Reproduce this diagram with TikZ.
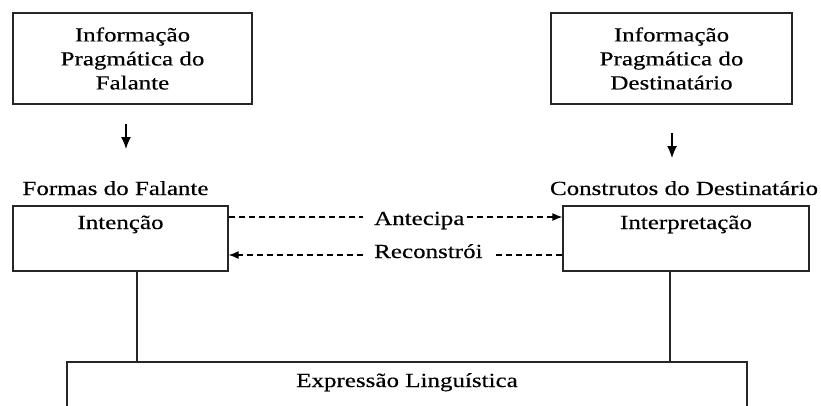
\documentclass[tikz,border=0pt]{standalone}
\usepackage{fontspec}
\setmainfont{Liberation Serif}[FakeStretch=1.25, FakeBold=0.4]
\usetikzlibrary{arrows.meta}

\begin{document}
\begin{tikzpicture}[x=1pt,y=-1pt,
  every node/.style={font=\fontsize{20}{24}\selectfont},
  caixa/.style={draw=black!85, line width=1.3pt, inner sep=0pt},
  seta/.style={line width=1.3pt, -{Latex[length=12pt,width=10pt]}},
  tracejado/.style={line width=1.2pt, dash pattern=on 6pt off 4pt}]
\def\xl{132.5};
\def\xr{671.5};
\def\ytopo{58.5};
\def\yrot{195};
\def\ycx{229};

\useasboundingbox (0,0) rectangle (821,405);
\clip (0,0) rectangle (821,405);

% caixas de cima
\node[caixa, align=center, minimum width=239pt, minimum height=91pt] (infF) at (\xl, \ytopo) {Informação\\Pragmática do\\Falante};
\node[caixa, align=center, minimum width=241pt, minimum height=91pt] (infD) at (\xr, \ytopo) {Informação\\Pragmática do\\Destinatário};

\coordinate (sF1) at (126,124);
\coordinate (sF2) at (126,149);
\coordinate (sD1) at (672,133);
\coordinate (sD2) at (672,158);
\draw[seta] (sF1) -- (sF2);
\draw[seta] (sD1) -- (sD2);

\node[anchor=base] (formas) at (115.5, \yrot) {Formas do Falante};
\node[anchor=base] (constr) at (684, \yrot) {Construtos do Destinatário};

% intencao / interpretacao
\node[caixa, anchor=base, minimum width=215pt, text height=23pt, text depth=42pt] (int) at (120.5, \ycx) {Intenção};
\node[caixa, anchor=base, minimum width=246pt, text height=23pt, text depth=42pt] (interp) at (686, \ycx) {Interpretação};

\node[anchor=base west, inner sep=0pt] (ant) at (374,225) {Antecipa};
\node[anchor=base west, inner sep=0pt] (rec) at (374,258) {Reconstrói};

\coordinate (yA) at (0,217);
\coordinate (yR) at (0,255);
\coordinate (a1) at (363,217);
\coordinate (a2) at (467,217);
\coordinate (r1) at (493,255);
\coordinate (r2) at (363,255);
\draw[tracejado] (int.east |- yA) -- (a1);
\draw[tracejado, -{Latex[length=10pt,width=8pt]}] (a2) -- (interp.west |- yA);
\draw[tracejado] (interp.west |- yR) -- (r1);
\draw[tracejado, -{Latex[length=10pt,width=8pt]}] (r2) -- (int.east |- yR);

% expressao
\node[caixa, anchor=base, minimum width=680pt, text height=25pt, text depth=40pt] (expr) at (407,387) {Expressão Linguística};

\coordinate (vL) at (137,0);
\coordinate (vR) at (670,0);
\draw[line width=1.3pt, black!85] (int.south -| vL) -- (expr.north -| vL);
\draw[line width=1.3pt, black!85] (interp.south -| vR) -- (expr.north -| vR);

\end{tikzpicture}
\end{document}
